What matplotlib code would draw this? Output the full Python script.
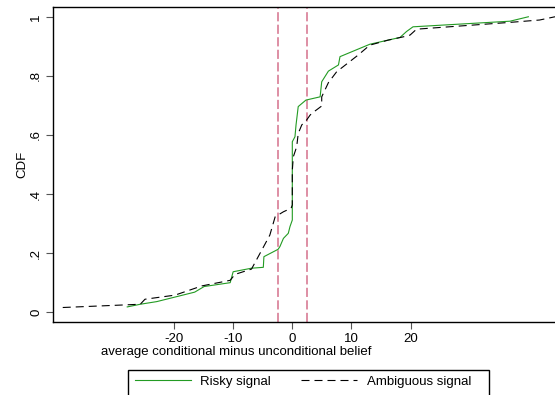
import matplotlib
matplotlib.use("Agg")
import matplotlib.pyplot as plt
from matplotlib.patches import Rectangle

plt.rcParams["font.family"] = ["Liberation Sans", "DejaVu Sans"]
plt.rcParams["font.size"] = 9.5

risky_x = [-27.9, -25.7, -22.9, -16.5, -14.9, -10.5, -10.0, -6.9, -4.9,
           -4.8, -2.4, -2.1, -1.5, -0.68, -0.39, 0.0, 0.0, 0.45, 0.63,
           1.0, 2.3, 4.7, 4.97, 6.1, 7.8, 8.06, 13.1, 18.2, 19.3, 20.4,
           36.8, 39.9]
risky_y = [0.018, 0.027, 0.036, 0.068, 0.087, 0.100, 0.137, 0.149, 0.152,
           0.188, 0.213, 0.222, 0.250, 0.267, 0.290, 0.312, 0.577, 0.594,
           0.634, 0.696, 0.718, 0.729, 0.780, 0.816, 0.837, 0.865, 0.907,
           0.930, 0.950, 0.966, 0.985, 1.0]

ambig_x = [-38.8, -25.7, -24.9, -19.8, -15.3, -10.5, -9.7, -6.9, -4.9,
           -3.8, -2.9, -1.5, -0.2, 0.0, 0.0, 0.17, 0.74, 1.0, 1.6, 2.4,
           3.0, 3.3, 4.97, 4.97, 6.1, 7.5, 8.6, 11.1, 13.1, 16.2, 18.75,
           19.9, 21.0, 36.8, 41.8, 44.4]
ambig_y = [0.016, 0.027, 0.044, 0.058, 0.089, 0.108, 0.128, 0.146, 0.220,
           0.261, 0.323, 0.340, 0.352, 0.363, 0.48, 0.526, 0.56, 0.605,
           0.634, 0.65, 0.667, 0.673, 0.698, 0.729, 0.777, 0.814, 0.831,
           0.870, 0.904, 0.921, 0.932, 0.938, 0.958, 0.981, 0.989, 1.0]

ref_lines = [-2.5, 2.5]

x_ticks = [-20, -10, 0, 10, 20]
y_ticks = [0, 0.2, 0.4, 0.6, 0.8, 1]
y_tick_labels = ["0", ".2", ".4", ".6", ".8", "1"]

W, H = 555, 395

fig = plt.figure(figsize=(W / 100, H / 100), dpi=100)
ax = fig.add_axes([0.096, 0.1856, 0.904, 0.7959])

for xv in ref_lines:
    ax.axvline(xv, color="#d5708b", lw=1.1, dashes=(6, 2.2))

ax.plot(risky_x, risky_y, color="#239b23", lw=0.8, label="Risky signal")
ax.plot(ambig_x, ambig_y, color="black", lw=0.8, dashes=(7.2, 4.5),
        label="Ambiguous signal")

ax.set_xlim(-40.4, 44.4)
ax.set_ylim(-0.032, 1.032)

ax.set_xticks(x_ticks)
ax.set_xticklabels([str(t) for t in x_ticks])
ax.set_yticks(y_ticks)
ax.set_yticklabels(y_tick_labels, rotation=90, va="center")
ax.tick_params(length=5, width=0.8, color="#555555", pad=3)

for side in ["left", "bottom", "top"]:
    ax.spines[side].set_linewidth(1.0)
ax.spines["right"].set_visible(False)

ax.set_ylabel("CDF", labelpad=1)
fig.text(236 / W, 1 - 352 / H, "average conditional minus unconditional belief",
         ha="center", va="center")

# legend; its box runs past the bottom edge of the picture
handles, labels = ax.get_legend_handles_labels()
fig.legend(handles, labels, loc="upper left",
           bbox_to_anchor=(128.3 / W, 1 - 369 / H),
           borderaxespad=0, ncol=2, frameon=False,
           handlelength=4.25, handletextpad=0.7,
           columnspacing=2.3, borderpad=0.5)
fig.patches.append(Rectangle((128.3 / W, -0.05), (489 - 128.3) / W,
                             0.05 + (H - 370) / H, transform=fig.transFigure,
                             fill=False, edgecolor="black", lw=1.0))

fig.savefig("out.png", dpi=100)
